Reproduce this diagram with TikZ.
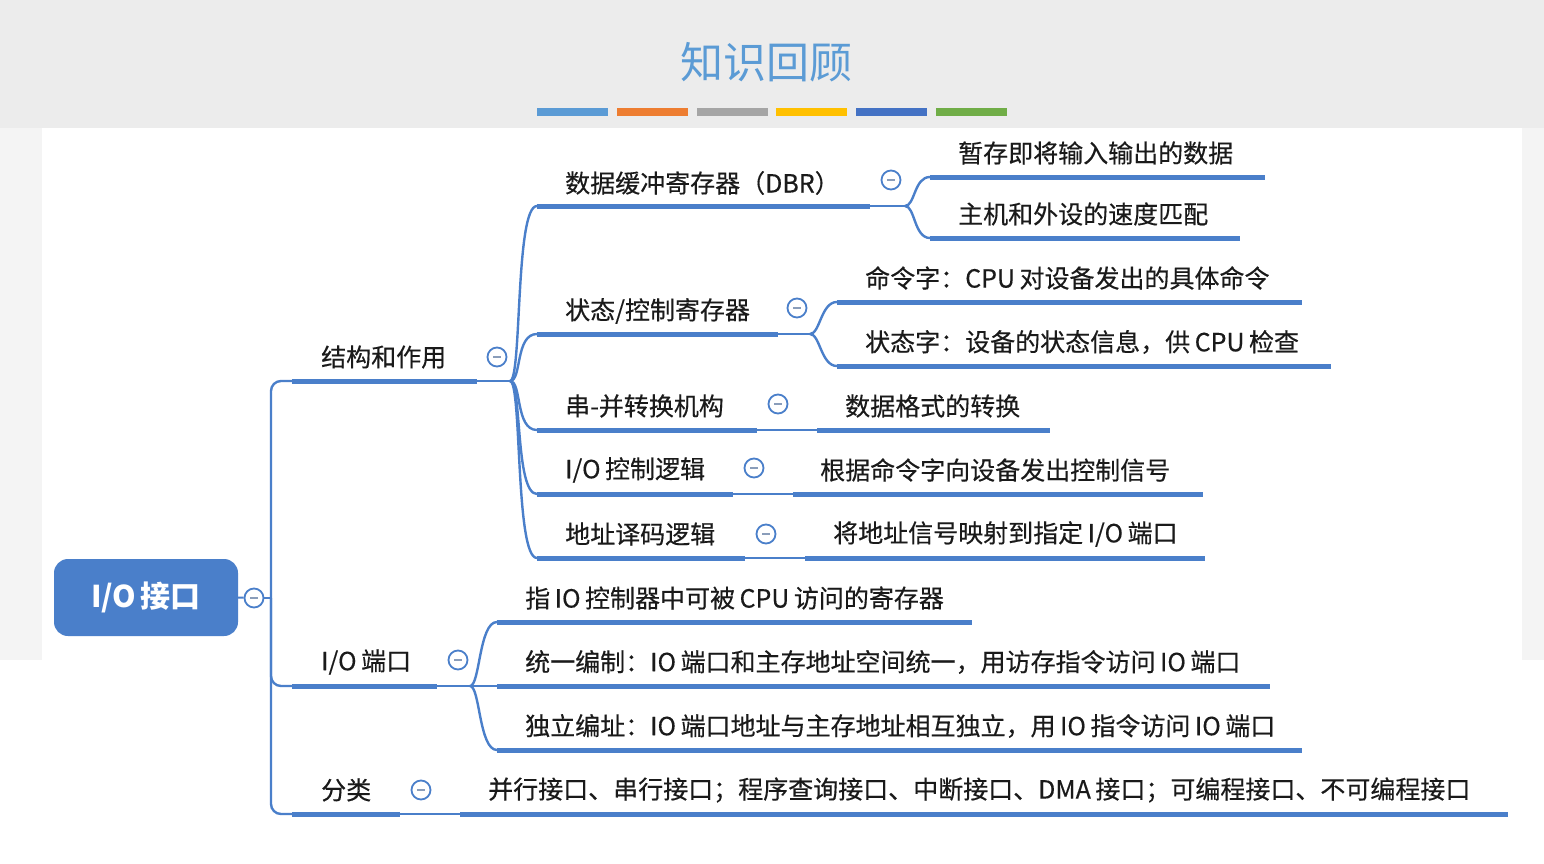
\documentclass[tikz,border=0pt]{standalone}
\usepackage{fontspec}
\setmainfont{Noto Sans CJK SC}
\newfontfamily\topicfont{Noto Sans CJK SC}[FakeBold=0.35]
\usetikzlibrary{positioning}

\definecolor{mmblue}{HTML}{4A7FCA}
\definecolor{titleblue}{HTML}{5B9BD5}
\definecolor{textdark}{HTML}{1A1A1A}
\definecolor{minusgray}{HTML}{8A9DBA}
\definecolor{bandgray}{HTML}{ECECEC}
\definecolor{sidegray}{HTML}{F4F4F4}
\definecolor{barblue}{HTML}{5B9BD5}
\definecolor{barorange}{HTML}{ED7D31}
\definecolor{bargray}{HTML}{A5A5A5}
\definecolor{baryellow}{HTML}{FFC000}
\definecolor{bardarkblue}{HTML}{4472C4}
\definecolor{bargreen}{HTML}{70AD47}

\newcommand\lgap{\hspace{4.5pt}}

\begin{document}
\begin{tikzpicture}[x=1pt,y=-1pt,
  topic/.style={anchor=west, inner sep=0pt, text=textdark, font=\topicfont\fontsize{25}{28}\selectfont},
  uline/.style={mmblue, line width=5pt},
  thinline/.style={mmblue, line width=2pt},
  fanline/.style={mmblue, line width=2.4pt},
  fold/.style={circle, draw=mmblue, fill=white, line width=1.8pt, minimum size=19pt, inner sep=0pt,
    path picture={\draw[minusgray, line width=2pt]
      ([xshift=-4pt]path picture bounding box.center) -- ([xshift=4pt]path picture bounding box.center);}},
  rootbox/.style={fill=mmblue, rounded corners=14pt, minimum width=184pt, minimum height=77pt,
    text=white, font=\fontsize{30}{34}\selectfont\bfseries}
]
\useasboundingbox (0,0) rectangle (1544,864);

% background
\fill[white] (0,0) rectangle (1544,864);
\fill[bandgray] (0,0) rectangle (1544,128);
\fill[sidegray] (0,128) rectangle (42,660);
\fill[sidegray] (1522,128) rectangle (1544,660);

% title and colour bars
\node[text=titleblue, font=\fontsize{43}{48}\selectfont] (title) at (766,62) {知识回顾};
\foreach \c [count=\i from 0] in {barblue,barorange,bargray,baryellow,bardarkblue,bargreen}
  \fill[\c] ({537+\i*79.8},108) rectangle +(71,8);

% root
\node[rootbox] (io) at (146,597.5) {I/O\lgap 接口};
\node[fold] (io-f) at (254,598) {};
\coordinate (trunk) at (271,598);
\draw[thinline] (io.east) -- (io-f);
\draw[thinline] (io-f) -- (trunk);

% level 1
\coordinate (jg-s) at (292,381); \coordinate (jg-e) at (477,381);
\coordinate (dk-s) at (292,686); \coordinate (dk-e) at (437,686);
\coordinate (fl-s) at (292,814); \coordinate (fl-e) at (400,814);
\draw[fanline, rounded corners=10pt] (trunk) |- (jg-s);
\draw[fanline, rounded corners=10pt] (trunk) |- (dk-s);
\draw[fanline, rounded corners=10pt] (trunk) |- (fl-s);
\draw[uline] (jg-s) -- (jg-e);
\draw[uline] (dk-s) -- (dk-e);
\draw[uline] (fl-s) -- (fl-e);
\node[topic] (jg) at (321,357) {结构和作用};
\node[topic] (dk) at (321,662) {I/O\lgap 端口};
\node[topic] (fl) at (321,790) {分类};
\node[fold] (jg-f) at (497,357) {};
\node[fold] (dk-f) at (458,660) {};
\node[fold] (fl-f) at (421,790) {};
\coordinate (jg-o) at (510,381);
\coordinate (dk-o) at (470,686);
\draw[thinline] (jg-e) -- (jg-o);
\draw[thinline] (dk-e) -- (dk-o);

% 分类 leaf
\coordinate (flx-s) at (460,814); \coordinate (flx-e) at (1508,814);
\draw[thinline] (fl-e) -- (flx-s);
\draw[uline] (flx-s) -- (flx-e);
\node[topic] (flx) at (488,790) {并行接口、串行接口；程序查询接口、中断接口、DMA\lgap 接口；可编程接口、不可编程接口};

% level 2 under 结构和作用
\coordinate (dbr-s) at (537,206); \coordinate (dbr-e) at (870,206);
\coordinate (zt-s) at (537,334);  \coordinate (zt-e) at (778,334);
\coordinate (cb-s) at (537,430);  \coordinate (cb-e) at (757,430);
\coordinate (kz-s) at (537,494);  \coordinate (kz-e) at (733,494);
\coordinate (ym-s) at (537,558);  \coordinate (ym-e) at (745,558);
\foreach \t in {dbr,zt,cb,kz,ym}{
  \draw[fanline] (jg-o) .. controls +(12,0) and +(-22,0) .. (\t-s);
  \draw[uline] (\t-s) -- (\t-e);
}
\node[topic] (dbr) at (565,183) {数据缓冲寄存器（DBR）};
\node[topic] (zt) at (565,311) {状态/控制寄存器};
\node[topic] (cb) at (565,406) {串-并转换机构};
\node[topic] (kz) at (565,470) {I/O\lgap 控制逻辑};
\node[topic] (ym) at (565,534) {地址译码逻辑};
\node[fold] (dbr-f) at (891,180) {};
\node[fold] (zt-f) at (797,308) {};
\node[fold] (cb-f) at (778,404) {};
\node[fold] (kz-f) at (754,468) {};
\node[fold] (ym-f) at (766,534) {};

% DBR children
\coordinate (dbr-o) at (905,206);
\draw[thinline] (dbr-e) -- (dbr-o);
\coordinate (zc-s) at (930,177); \coordinate (zc-e) at (1265,177);
\coordinate (sd-s) at (930,238); \coordinate (sd-e) at (1240,238);
\foreach \t in {zc,sd}{
  \draw[fanline] (dbr-o) .. controls +(10,0) and +(-16,0) .. (\t-s);
  \draw[uline] (\t-s) -- (\t-e);
}
\node[topic] (zc) at (958,153) {暂存即将输入输出的数据};
\node[topic] (sd) at (958,214) {主机和外设的速度匹配};

% 状态/控制寄存器 children
\coordinate (zt-o) at (810,334);
\draw[thinline] (zt-e) -- (zt-o);
\coordinate (ml-s) at (837,302); \coordinate (ml-e) at (1302,302);
\coordinate (zz-s) at (837,366); \coordinate (zz-e) at (1331,366);
\foreach \t in {ml,zz}{
  \draw[fanline] (zt-o) .. controls +(10,0) and +(-16,0) .. (\t-s);
  \draw[uline] (\t-s) -- (\t-e);
}
\node[topic] (ml) at (865,278) {命令字：CPU\lgap 对设备发出的具体命令};
\node[topic] (zz) at (865,342) {状态字：设备的状态信息，供\lgap CPU\lgap 检查};

% single leaves
\coordinate (gs-s) at (817,430);  \coordinate (gs-e) at (1050,430);
\coordinate (xh-s) at (793,494);  \coordinate (xh-e) at (1203,494);
\coordinate (ys-s) at (805,558);  \coordinate (ys-e) at (1205,558);
\draw[thinline] (cb-e) -- (gs-s);
\draw[thinline] (kz-e) -- (xh-s);
\draw[thinline] (ym-e) -- (ys-s);
\draw[uline] (gs-s) -- (gs-e);
\draw[uline] (xh-s) -- (xh-e);
\draw[uline] (ys-s) -- (ys-e);
\node[topic] (gs) at (845,406) {数据格式的转换};
\node[topic] (xh) at (820,470) {根据命令字向设备发出控制信号};
\node[topic] (ys) at (833,534) {将地址信号映射到指定\lgap I/O\lgap 端口};

% I/O端口 children
\coordinate (jc-s) at (497,622); \coordinate (jc-e) at (972,622);
\coordinate (ty-s) at (497,686); \coordinate (ty-e) at (1270,686);
\coordinate (dl-s) at (497,750); \coordinate (dl-e) at (1302,750);
\foreach \t in {jc,ty,dl}{
  \draw[fanline] (dk-o) .. controls +(10,0) and +(-18,0) .. (\t-s);
  \draw[uline] (\t-s) -- (\t-e);
}
\node[topic] (jc) at (525,598) {指\lgap IO\lgap 控制器中可被\lgap CPU\lgap 访问的寄存器};
\node[topic] (ty) at (525,662) {统一编制：IO\lgap 端口和主存地址空间统一，用访存指令访问\lgap IO\lgap 端口};
\node[topic] (dl) at (525,726) {独立编址：IO\lgap 端口地址与主存地址相互独立，用\lgap IO\lgap 指令访问\lgap IO\lgap 端口};

\end{tikzpicture}
\end{document}
